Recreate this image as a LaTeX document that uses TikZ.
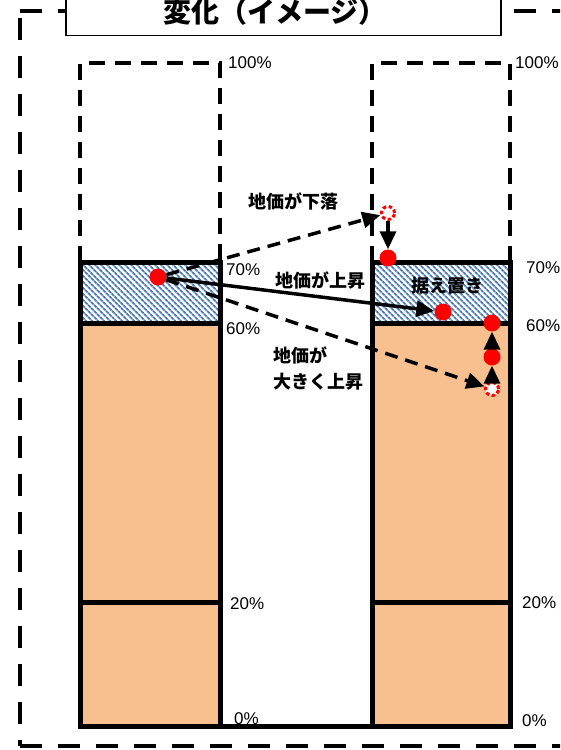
\documentclass[tikz,border=0pt]{standalone}
\usepackage{fontspec}
\usetikzlibrary{arrows.meta,patterns.meta}
\newfontfamily\jp{Noto Sans CJK JP}
\newfontfamily\pctf{Liberation Sans}
\definecolor{peach}{HTML}{F9C08F}
\definecolor{hatchblue}{HTML}{4A7CBE}
\tikzset{
  outer/.style={line width=4pt, dash pattern=on 22pt off 16pt},
  topdash/.style={line width=3.2pt, dash pattern=on 16pt off 10pt},
  barline/.style={line width=5pt},
  hatch/.style={pattern={Lines[angle=-45,distance=4pt,line width=1.8pt]}, pattern color=hatchblue},
  dot/.style={circle, fill=red, inner sep=0pt, minimum size=17pt},
  ghost/.style={circle, draw=red, fill=white, line width=3pt, dash pattern=on 3.5pt off 2.5pt, inner sep=0pt, minimum size=13pt},
  arr/.style={line width=3.5pt, -{Triangle[length=18pt,width=16pt]}},
  darr/.style={arr, dash pattern=on 13pt off 8pt},
  pct/.style={font=\pctf\fontsize{17}{19}\selectfont, anchor=west, inner sep=0pt},
  lab/.style={font=\jp\bfseries\fontsize{18}{26}\selectfont, inner sep=0pt, align=left},
}
\begin{document}
\begin{tikzpicture}[x=1pt,y=-1pt]
\useasboundingbox (0,0) rectangle (560,750);
\clip (0,0) rectangle (560,750);
% outer dashed frame
\draw[outer] (20,11) -- (600,11);
\draw[outer] (20,18) -- (20,746);
\draw[outer] (20,746) -- (600,746);
% title
\node[draw, line width=1.5pt, fill=white, minimum width=435pt, minimum height=70pt, anchor=south west] (title) at (65,36) {};
\node[font=\jp\bfseries\fontsize{28}{30}\selectfont, inner sep=0pt] (ttext) at (275,12) {変化（イメージ）};
% left bar
\fill[peach] (80,323) rectangle (220,726);
\fill[white] (80,262) rectangle (220,323);
\fill[hatch] (80,262) rectangle (220,323);
\draw[topdash] (80,262) -- (80,63) -- (220,63) -- (220,262);
\draw[barline] (80,262) rectangle (220,726);
\draw[barline] (80,323) -- (220,323);
\draw[barline] (80,602) -- (220,602);
% right bar
\fill[peach] (372,323) rectangle (510,726);
\fill[white] (372,262) rectangle (510,323);
\fill[hatch] (372,262) rectangle (510,323);
\draw[topdash] (372,262) -- (372,63) -- (510,63) -- (510,262);
\draw[barline] (372,262) rectangle (510,726);
\draw[barline] (372,323) -- (510,323);
\draw[barline] (372,602) -- (510,602);
% bottom base line
\draw[barline] (220,726) -- (372,726);
% percentage labels
\node[pct] (l100) at (228,63) {100\%};
\node[pct] (l70) at (226,270) {70\%};
\node[pct] (l60) at (226,329) {60\%};
\node[pct] (l20) at (230,604) {20\%};
\node[pct] (l0) at (234,719) {0\%};
\node[pct] (r100) at (515,63) {100\%};
\node[pct] (r70) at (526,268) {70\%};
\node[pct] (r60) at (526,326) {60\%};
\node[pct] (r20) at (522,603) {20\%};
\node[pct] (r0) at (522,721) {0\%};
% text labels
\node[lab, anchor=west] (down) at (248,201) {地価が下落};
\node[lab, anchor=west] (up) at (275,280) {地価が上昇};
\node[lab, anchor=north west] (bigup) at (273,347) {地価が\\大きく上昇};
\node[lab] (keep) at (447,286) {据え置き};
% points
\node[dot] (d0) at (158,277) {};
\node[ghost] (g1) at (388,213) {};
\node[dot] (d1) at (388,258) {};
\node[dot] (d2) at (443,312) {};
\node[ghost] (g2) at (492,389) {};
\node[dot] (d3) at (492,357) {};
\node[dot] (d4) at (492,323) {};
% arrows
\draw[darr] (d0) -- (g1);
\draw[arr] (d0) -- (d2);
\draw[darr] (d0) -- (g2);
\draw[arr] (g1) -- (d1);
\draw[arr] (g2) -- (d3);
\draw[arr] (d3) -- (d4);
\end{tikzpicture}
\end{document}
